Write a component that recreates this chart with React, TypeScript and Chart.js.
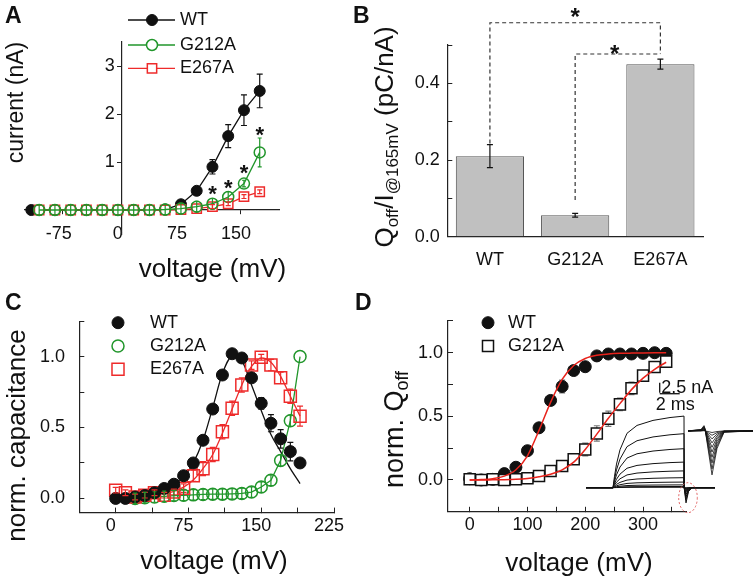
import React, { useEffect, useRef } from 'react';
import { Chart, registerables } from 'chart.js';

Chart.register(...registerables);

const FONT = "'Liberation Sans', Arial, Helvetica, sans-serif";
Chart.defaults.font.family = FONT;
Chart.defaults.font.size = 18;
Chart.defaults.color = '#111';

const INK = '#111111';
const AXIS = '#222222';
const GREEN = '#21962b';
const RED = '#ee2b2b';
const FIT_RED = '#e8231c';
const BAR_FILL = '#c0c0c0';
const CLEAR = 'rgba(255,255,255,0)';

// ---------------- Panel A : current vs voltage ----------------
const A_LEGEND = ['WT', 'G212A', 'E267A'];
const A_WT_V = [-115, -105, -85, -65, -45, -25, -5, 15, 35, 55, 75, 95, 115, 135, 155, 175];
const A_WT_I = [0, 0, 0, 0, 0, 0, 0, 0, 0, 0.01, 0.12, 0.4, 0.9, 1.54, 2.08, 2.48];
const A_WT_ERR = [0, 0, 0, 0, 0, 0, 0, 0, 0, 0, 0.03, 0.05, 0.15, 0.24, 0.32, 0.35];
const A_MUT_V = [-105, -85, -65, -45, -25, -5, 15, 35, 55, 75, 95, 115, 135, 155, 175];
const A_G212A_I = [0, 0, 0, 0, 0, 0, 0, 0, 0.01, 0.03, 0.07, 0.13, 0.27, 0.55, 1.2];
const A_G212A_ERR = [0.11, 0.11, 0.11, 0.11, 0.11, 0.11, 0.11, 0.11, 0.11, 0.11, 0.11, 0.11, 0.11, 0.07, 0.3];
const A_E267A_I = [0, 0, 0, 0, 0, 0, 0, 0, 0, 0.01, 0.03, 0.07, 0.13, 0.28, 0.38];
const A_E267A_ERR = [0, 0, 0, 0, 0, 0, 0, 0, 0, 0, 0, 0.04, 0.04, 0.04, 0.04];
const A_STAR_V = [115, 135, 155, 175];
const A_STAR_I = [0.45, 0.57, 0.89, 1.68];
const A_XTICKS = [-75, 0, 75, 150];
const A_YTICKS = [1, 2, 3];

// ---------------- Panel B : Qoff / I bars ----------------
const B_CATS = ['WT', 'G212A', 'E267A'];
const B_VALS = [0.21, 0.056, 0.45];
const B_ERR = [0.03, 0.005, 0.013];
const B_OUTER_CAT = ['WT', 'WT', 'E267A', 'E267A'];
const B_OUTER_Y = [0.243, 0.558, 0.558, 0.4765];
const B_INNER_CAT = ['G212A', 'G212A', 'E267A'];
const B_INNER_Y = [0.096, 0.4765, 0.4765];
const B_STAR_POS = [1, 1.465];
const B_STAR_Y = [0.587, 0.491];
const B_YTICKS = [0, 0.1, 0.2, 0.3, 0.4, 0.5];
const B_YLABELED = [0, 0.2, 0.4];

// ---------------- Panel C : normalized capacitance ----------------
const C_LEGEND = ['WT', 'G212A', 'E267A'];
const C_V = [0, 10, 20, 30, 40, 50, 60, 70, 80, 90, 100, 110, 120, 130, 140, 150, 160, 170, 180, 190];
const C_WT = [0.0, 0.0, 0.01, 0.02, 0.04, 0.07, 0.1, 0.16, 0.25, 0.41, 0.63, 0.87, 1.02, 0.99, 0.85, 0.67, 0.53, 0.42, 0.33, 0.25];
const C_WT_ERR = [0, 0, 0, 0, 0, 0, 0, 0.01, 0.01, 0.02, 0.02, 0.02, 0.02, 0.02, 0.02, 0.04, 0.06, 0.065, 0.065, 0.02];
const C_WT_FIT = [0.0, 0.005, 0.012, 0.022, 0.037, 0.06, 0.095, 0.15, 0.25, 0.41, 0.64, 0.88, 1.0, 0.97, 0.8, 0.62, 0.45, 0.33, 0.21, 0.105];
const C_G212A_V = [20, 30, 40, 50, 60, 70, 80, 90, 100, 110, 120, 130, 140, 150, 160, 170, 180, 190];
const C_G212A = [0.0, 0.005, 0.01, 0.015, 0.02, 0.022, 0.025, 0.028, 0.03, 0.03, 0.032, 0.035, 0.045, 0.08, 0.128, 0.268, 0.548, 1.0];
const C_G212A_ERR = [0.037, 0.037, 0.037, 0.037, 0.037, 0.037, 0.037, 0.037, 0.037, 0.037, 0.037, 0.037, 0.037, 0.037, 0.037, 0.04, 0.04, 0];
const C_E267A = [0.058, 0.04, 0.01, 0.023, 0.04, 0.023, 0.046, 0.072, 0.16, 0.21, 0.31, 0.47, 0.636, 0.8, 0.94, 0.995, 0.94, 0.85, 0.72, 0.58];
const C_E267A_ERR = [0.02, 0.02, 0.02, 0.02, 0.02, 0.02, 0.02, 0.03, 0.04, 0.05, 0.05, 0.05, 0.05, 0.05, 0.03, 0.02, 0.04, 0.04, 0.05, 0.07];
const C_E267A_FIT = [0.005, 0.008, 0.012, 0.017, 0.025, 0.035, 0.05, 0.08, 0.13, 0.21, 0.31, 0.46, 0.63, 0.8, 0.93, 0.99, 0.96, 0.86, 0.72, 0.58];
const C_XTICKS = [0, 37.5, 75, 112.5, 150, 187.5, 225];
const C_XLABELED = [0, 75, 150, 225];
const C_YTICKS = [0, 0.25, 0.5, 0.75, 1.0, 1.25];
const C_YLABELED = [0, 0.5, 1.0];

// ---------------- Panel D : normalized Qoff ----------------
const D_LEGEND = ['WT', 'G212A'];
const D_V = [0, 20, 40, 60, 80, 100, 120, 140, 160, 180, 200, 220, 240, 260, 280, 300, 320, 340];
const D_WT = [0.01, 0.0, 0.005, 0.05, 0.1, 0.23, 0.41, 0.625, 0.735, 0.86, 0.89, 0.975, 0.99, 0.99, 0.99, 0.995, 1.0, 0.995];
const D_WT_ERR = [0, 0, 0, 0, 0.02, 0.02, 0.03, 0.03, 0.05, 0.02, 0.02, 0, 0, 0, 0, 0, 0, 0];
const D_G212A = [0.005, 0.0, 0.005, 0.0, 0.005, 0.013, 0.031, 0.071, 0.11, 0.163, 0.24, 0.366, 0.481, 0.594, 0.72, 0.82, 0.888, 0.93];
const D_G212A_ERR = [0, 0, 0, 0, 0, 0.01, 0.01, 0.02, 0.03, 0.04, 0.05, 0.06, 0.06, 0.05, 0.05, 0.04, 0.02, 0.01];
const D_WT_FIT = [0.0, 0.003, 0.01, 0.03, 0.08, 0.19, 0.39, 0.61, 0.79, 0.9, 0.955, 0.98, 0.99, 0.995, 0.997, 0.998, 0.999, 1.0];
const D_G212A_FIT = [0.0, 0.0, 0.001, 0.002, 0.005, 0.012, 0.025, 0.045, 0.08, 0.14, 0.24, 0.36, 0.485, 0.6, 0.71, 0.8, 0.87, 0.925];
const D_XTICKS = [0, 50, 100, 150, 200, 250, 300, 350];
const D_XLABELED = [0, 100, 200, 300];
const D_YTICKS = [0, 0.25, 0.5, 0.75, 1.0, 1.25];
const D_YLABELED = [0, 0.5, 1.0];

// ---------------- Panel D inset : current traces (time in ms, current in nA) ----------------
const INSET_T_RANGE = [-3.3, 14.3];
const INSET_I_RANGE = [-7.08, 29.43];
const INSET_AMP = [17.9, 13.5, 9.75, 6.4, 4.2, 2.5, 1.4, 0.7, 0.3, 0.1];
const INSET_SPIKE = [3.8, 3.0, 2.3, 1.7, 1.2, 0.8, 0.5, 0.3, 0.1, 0.05];
const INSET_PRE_T = [-2.7, 0];
const INSET_RISE_T = [0.15, 0.35, 0.7, 1.4, 2.4, 4.0, 5.7, 7.1];
const INSET_RISE_F = [0.16, 0.33, 0.53, 0.76, 0.87, 0.94, 0.98, 1.0];
const INSET_OFF_T = [7.12, 7.3, 7.55, 7.9, 10.2];
const INSET_OFF_F = [0, -1, -0.25, 0, 0];
const INSET_TAIL_BASE = 14.2;
const INSET_TAIL_T = [7.5, 8.8, 9.1, 9.2, 9.9, 10.4, 11.1, 14.0];
const INSET_TAIL_F = [0, 0.03, 0.12, 0.05, -1, -0.4, -0.03, 0];
const INSET_TAIL_DEPTH = [11, 9.5, 8, 6.6, 5.3, 4.1, 3, 2, 1.1, 0.4];
const INSET_BAR_T = [4.67, 6.67];
const INSET_BAR_I = [23.5, 23.75, 26.25];
const INSET_RING = [7.5, -2.5, 0.93, 3.75]; // centre t, centre I, radius t, radius I

type Pt = { x: number; y: number };
const pts = (xs: number[], ys: number[]): Pt[] => xs.map((x, i) => ({ x, y: ys[i] }));
const catPts = (cs: string[], ys: number[]) => cs.map((c, i) => ({ x: c, y: ys[i] }));

// ---------------- drawing helpers ----------------
type Run = { t: string; sub?: boolean };
function drawRich(ctx: any, runs: Run[], x: number, y: number, size: number, subSize: number, rotate: boolean) {
  ctx.save();
  ctx.translate(x, y);
  if (rotate) ctx.rotate(-Math.PI / 2);
  ctx.textAlign = 'left';
  ctx.textBaseline = 'alphabetic';
  ctx.fillStyle = INK;
  const fonts = runs.map((r) => `${r.sub ? subSize : size}px ${FONT}`);
  const widths = runs.map((r, i) => {
    ctx.font = fonts[i];
    return ctx.measureText(r.t).width;
  });
  let cx = -widths.reduce((a, b) => a + b, 0) / 2;
  runs.forEach((r, i) => {
    ctx.font = fonts[i];
    ctx.fillText(r.t, cx, r.sub ? size * 0.2 : 0);
    cx += widths[i];
  });
  ctx.restore();
}
function drawText(ctx: any, s: string, x: number, y: number, font: string, align = 'left', baseline = 'alphabetic') {
  ctx.save();
  ctx.font = font;
  ctx.fillStyle = INK;
  ctx.textAlign = align;
  ctx.textBaseline = baseline;
  ctx.fillText(s, x, y);
  ctx.restore();
}
const drawLetter = (ctx: any, s: string, x: number, y: number) => drawText(ctx, s, x, y, `bold 23px ${FONT}`);
function drawStar(ctx: any, x: number, y: number, size: number) {
  drawText(ctx, '*', x, y + size * 0.57, `bold ${size}px ${FONT}`, 'center');
}
function marker(ctx: any, kind: string, x: number, y: number, r: number, stroke: string, fill: string, lw: number) {
  ctx.save();
  ctx.beginPath();
  if (kind === 'rect') {
    const h = r * Math.SQRT1_2;
    ctx.rect(x - h, y - h, 2 * h, 2 * h);
  } else {
    ctx.arc(x, y, r, 0, Math.PI * 2);
  }
  ctx.fillStyle = fill;
  ctx.fill();
  ctx.lineWidth = lw;
  ctx.strokeStyle = stroke;
  ctx.stroke();
  ctx.restore();
}
function drawLegend(ctx: any, chart: any, names: string[], mx: number, tx: number, rows: number[], line?: [number, number]) {
  names.forEach((name, i) => {
    const ds = chart.data.datasets.find((d: any) => d.label === name);
    if (line) {
      ctx.save();
      ctx.strokeStyle = ds.borderColor;
      ctx.lineWidth = 1.3;
      ctx.beginPath();
      ctx.moveTo(line[0], rows[i]);
      ctx.lineTo(line[1], rows[i]);
      ctx.stroke();
      ctx.restore();
    }
    const fill = ds.pointBackgroundColor === CLEAR ? '#ffffff' : ds.pointBackgroundColor;
    marker(ctx, ds.pointStyle, mx, rows[i], ds.pointRadius, ds.pointBorderColor || ds.borderColor, fill, ds.pointBorderWidth || 1.5);
    drawText(ctx, name, tx, rows[i], `18px ${FONT}`, 'left', 'middle');
  });
}

function drawErrs(chart: any, top: boolean) {
  const ctx = chart.ctx;
  chart.data.datasets.forEach((ds: any, i: number) => {
    if (!ds.errors || !!ds.errTop !== top) return;
    const meta = chart.getDatasetMeta(i);
    const ys = chart.scales[meta.yAxisID];
    ctx.save();
    ctx.strokeStyle = ds.errColor || ds.borderColor;
    ctx.lineWidth = 1.2;
    const cap = ds.errCap ?? 3;
    meta.data.forEach((el: any, j: number) => {
      const e = ds.errors[j];
      if (!e) return;
      const raw = ds.data[j];
      const v = typeof raw === 'number' ? raw : raw.y;
      const x = el.x;
      const y1 = ys.getPixelForValue(v + e);
      const y2 = ys.getPixelForValue(v - e);
      ctx.beginPath();
      ctx.moveTo(x, y1);
      ctx.lineTo(x, y2);
      ctx.moveTo(x - cap, y1);
      ctx.lineTo(x + cap, y1);
      ctx.moveTo(x - cap, y2);
      ctx.lineTo(x + cap, y2);
      ctx.stroke();
    });
    ctx.restore();
  });
}
const errorBarPlugin = {
  id: 'errorBars',
  beforeDatasetsDraw(chart: any) { drawErrs(chart, false); },
  afterDatasetsDraw(chart: any) { drawErrs(chart, true); },
};

const near = (list: number[], v: number) => list.some((l) => Math.abs(l - v) < 1e-6);
function linAxis(o: any) {
  return {
    type: 'linear',
    position: o.position,
    min: o.min,
    max: o.max,
    afterBuildTicks: (s: any) => { s.ticks = o.ticks.map((v: number) => ({ value: v })); },
    afterFit: (s: any) => { if (o.isX) s.height = o.fit; else s.width = o.fit; },
    grid: { display: true, drawOnChartArea: false, drawTicks: true, tickLength: o.tl, color: AXIS, lineWidth: 1 },
    border: { display: true, color: AXIS, width: 1.2 },
    title: { display: false },
    ticks: {
      display: o.showLabels !== false,
      autoSkip: false,
      maxRotation: 0,
      padding: o.pad,
      labelOffset: o.lo || 0,
      color: INK,
      font: { size: 18, family: FONT },
      callback: (v: number) => (near(o.labeled, v) ? o.fmt(v) : ''),
    },
  };
}
const pad = (W: number, H: number, a: any, yw: number, xh: number) => ({ left: a.l - yw, top: a.t, right: W - a.r, bottom: H - a.b - xh });
const baseOpts = { animation: false, responsive: false, events: [], plugins: { legend: { display: false }, tooltip: { enabled: false } } };

// ---------------- configs ----------------
function configA(): any {
  const W = 378, H = 291;
  const area = { l: 25, t: 42, r: 279.4, b: 234 };
  const overlay = {
    id: 'overlayA',
    afterDraw(chart: any) {
      const ctx = chart.ctx;
      const xs = chart.scales.x, ys = chart.scales.y;
      drawLetter(ctx, 'A', 5, 23);
      drawRich(ctx, [{ t: 'current (nA)' }], 23.3, 102.5, 23, 15, true);
      drawRich(ctx, [{ t: 'voltage (mV)' }], 212.5, 276.7, 26, 17, false);
      const axisX = xs.getPixelForValue(0);
      A_YTICKS.forEach((v) => drawText(ctx, String(v), axisX - 7, ys.getPixelForValue(v), `18px ${FONT}`, 'right', 'middle'));
      A_STAR_V.forEach((v, i) => drawStar(ctx, xs.getPixelForValue(v), ys.getPixelForValue(A_STAR_I[i]), 22));
      drawLegend(ctx, chart, A_LEGEND, 152, 180, [20, 45, 68.3], [128, 175]);
    },
  };
  return {
    type: 'line',
    data: {
      datasets: [
        { label: 'G212A', data: pts(A_MUT_V, A_G212A_I), errors: A_G212A_ERR, errTop: true, errCap: 2, borderColor: GREEN, borderWidth: 1.3, pointStyle: 'circle', pointRadius: 5.5, pointBorderWidth: 1.5, pointBackgroundColor: CLEAR, tension: 0, order: 0 },
        { label: 'E267A', data: pts(A_MUT_V, A_E267A_I), errors: A_E267A_ERR, errTop: true, errCap: 2.5, borderColor: RED, borderWidth: 1.3, pointStyle: 'rect', pointRadius: 6.6, pointBorderWidth: 1.5, pointBackgroundColor: '#ffffff', tension: 0, order: 1 },
        { label: 'WT', data: pts(A_WT_V, A_WT_I), errors: A_WT_ERR, borderColor: INK, borderWidth: 1.3, pointStyle: 'circle', pointRadius: 5.5, pointBorderWidth: 1, pointBackgroundColor: INK, tension: 0, order: 2 },
      ],
    },
    options: {
      ...baseOpts,
      layout: { padding: pad(W, H, area, 0, 0) },
      scales: {
        x: linAxis({ position: { y: 0 }, min: -123, max: 200, ticks: A_XTICKS, labeled: A_XTICKS, fmt: (v: number) => String(v), isX: true, fit: 0, tl: 4, pad: 9.2, lo: -4 }),
        y: linAxis({ position: { x: 0 }, min: -0.5, max: 3.5, ticks: A_YTICKS, labeled: A_YTICKS, fmt: (v: number) => String(v), isX: false, fit: 0, tl: 4, pad: 2.8, showLabels: false }),
      },
    },
    plugins: [errorBarPlugin, overlay],
  };
}

function configB(): any {
  const W = 416, H = 291;
  const area = { l: 107.3, t: 45, r: 363, b: 236.7 };
  const overlay = {
    id: 'overlayB',
    afterDraw(chart: any) {
      const ctx = chart.ctx;
      const xs = chart.scales.x, ys = chart.scales.y;
      drawLetter(ctx, 'B', 13, 23);
      drawRich(ctx, [{ t: 'Q' }, { t: 'off', sub: true }, { t: '/I' }, { t: '@165mV', sub: true }, { t: ' (pC/nA)' }], 53, 137, 26, 17, true);
      B_STAR_POS.forEach((p, i) => drawStar(ctx, xs.getPixelForValue(p), ys.getPixelForValue(B_STAR_Y[i]), 24));
    },
  };
  const bracket = { type: 'line', borderColor: '#333333', borderWidth: 1.2, borderDash: [4, 3], pointRadius: 0, clip: false, fill: false, tension: 0, order: 0 };
  return {
    type: 'bar',
    data: {
      labels: B_CATS,
      datasets: [
        { type: 'bar', label: 'Qoff/I', data: B_VALS, errors: B_ERR, errTop: true, errColor: INK, errCap: 3, backgroundColor: BAR_FILL, borderColor: '#555555', borderWidth: 1, barPercentage: 0.8, categoryPercentage: 1, order: 1 },
        { ...bracket, label: 'outer', data: catPts(B_OUTER_CAT, B_OUTER_Y) },
        { ...bracket, label: 'inner', data: catPts(B_INNER_CAT, B_INNER_Y) },
      ],
    },
    options: {
      ...baseOpts,
      layout: { padding: pad(W, H, area, 60, 40) },
      scales: {
        x: {
          type: 'category',
          afterFit: (s: any) => { s.height = 40; },
          grid: { display: false },
          border: { display: true, color: AXIS, width: 1.2 },
          ticks: { padding: 4.2, color: INK, font: { size: 18, family: FONT } },
        },
        y: linAxis({ min: 0, max: 0.5, ticks: B_YTICKS, labeled: B_YLABELED, fmt: (v: number) => v.toFixed(1), isX: false, fit: 60, tl: -5, pad: 12.6 }),
      },
    },
    plugins: [errorBarPlugin, overlay],
  };
}

function configC(): any {
  const W = 378, H = 291;
  const area = { l: 79.3, t: 28.5, r: 334, b: 221.6 };
  const overlay = {
    id: 'overlayC',
    afterDraw(chart: any) {
      const ctx = chart.ctx;
      drawLetter(ctx, 'C', 5, 18.5);
      drawRich(ctx, [{ t: 'norm. capacitance' }], 25, 144.5, 26, 17, true);
      drawRich(ctx, [{ t: 'voltage (mV)' }], 214, 278, 26, 17, false);
      drawLegend(ctx, chart, C_LEGEND, 118, 150, [31.7, 55, 78.3]);
    },
  };
  return {
    type: 'line',
    data: {
      datasets: [
        { label: 'WT', data: pts(C_V, C_WT), errors: C_WT_ERR, showLine: false, borderColor: INK, pointStyle: 'circle', pointRadius: 6, pointBorderWidth: 1, pointBackgroundColor: INK, order: 0 },
        { label: 'E267A', data: pts(C_V, C_E267A), errors: C_E267A_ERR, errTop: true, errCap: 3, showLine: false, borderColor: RED, pointStyle: 'rect', pointRadius: 8.5, pointBorderWidth: 1.5, pointBackgroundColor: CLEAR, order: 1 },
        { label: 'G212A', data: pts(C_G212A_V, C_G212A), errors: C_G212A_ERR, errTop: true, errCap: 2, borderColor: GREEN, borderWidth: 1.3, tension: 0, pointStyle: 'circle', pointRadius: 6, pointBorderWidth: 1.5, pointBackgroundColor: CLEAR, order: 2 },
        { label: 'WT fit', data: pts(C_V, C_WT_FIT), borderColor: INK, borderWidth: 1.3, pointRadius: 0, cubicInterpolationMode: 'monotone', order: 3 },
        { label: 'E267A fit', data: pts(C_V, C_E267A_FIT), borderColor: RED, borderWidth: 1.3, pointRadius: 0, cubicInterpolationMode: 'monotone', order: 3 },
      ],
    },
    options: {
      ...baseOpts,
      layout: { padding: pad(W, H, area, 60, 40) },
      scales: {
        x: linAxis({ position: 'bottom', min: -37.5, max: 225, ticks: C_XTICKS, labeled: C_XLABELED, fmt: (v: number) => String(v), isX: true, fit: 40, tl: -5, pad: 7.6, lo: -5 }),
        y: linAxis({ position: 'left', min: -0.1, max: 1.25, ticks: C_YTICKS, labeled: C_YLABELED, fmt: (v: number) => v.toFixed(1), isX: false, fit: 60, tl: -5, pad: 19.3 }),
      },
    },
    plugins: [errorBarPlugin, overlay],
  };
}

function configD(): any {
  const W = 416, H = 291;
  const area = { l: 108, t: 29.9, r: 346.4, b: 220.8 };
  const overlay = {
    id: 'overlayD',
    afterDraw(chart: any) {
      const ctx = chart.ctx;
      drawLetter(ctx, 'D', 15, 18.5);
      drawRich(ctx, [{ t: 'norm. Q' }, { t: 'off', sub: true }], 63, 138.5, 27, 18, true);
      drawRich(ctx, [{ t: 'voltage (mV)' }], 239, 280, 26, 17, false);
      drawLegend(ctx, chart, D_LEGEND, 148, 168, [31.7, 55]);
    },
  };
  return {
    type: 'line',
    data: {
      datasets: [
        { label: 'WT fit', data: pts(D_V, D_WT_FIT), borderColor: FIT_RED, borderWidth: 1.5, pointRadius: 0, cubicInterpolationMode: 'monotone', order: 0 },
        { label: 'G212A fit', data: pts(D_V, D_G212A_FIT), borderColor: FIT_RED, borderWidth: 1.5, pointRadius: 0, cubicInterpolationMode: 'monotone', order: 0 },
        { label: 'G212A', data: pts(D_V, D_G212A), errors: D_G212A_ERR, errColor: '#777777', errCap: 3, showLine: false, borderColor: INK, pointStyle: 'rect', pointRadius: 7.8, pointBorderWidth: 1.5, pointBorderColor: INK, pointBackgroundColor: '#ffffff', order: 1 },
        { label: 'WT', data: pts(D_V, D_WT), errors: D_WT_ERR, errColor: '#777777', errCap: 3, showLine: false, borderColor: INK, pointStyle: 'circle', pointRadius: 6, pointBorderWidth: 1, pointBackgroundColor: INK, order: 2 },
      ],
    },
    options: {
      ...baseOpts,
      layout: { padding: pad(W, H, area, 60, 40) },
      scales: {
        x: linAxis({ position: 'bottom', min: -37.5, max: 375, ticks: D_XTICKS, labeled: D_XLABELED, fmt: (v: number) => String(v), isX: true, fit: 40, tl: -5, pad: 7.6 }),
        y: linAxis({ position: 'left', min: -0.25, max: 1.25, ticks: D_YTICKS, labeled: D_YLABELED, fmt: (v: number) => v.toFixed(1), isX: false, fit: 60, tl: -5, pad: 10 }),
      },
    },
    plugins: [errorBarPlugin, overlay],
  };
}

function configInset(): any {
  const traceLine = { type: 'line', borderColor: INK, borderWidth: 1, pointRadius: 0, tension: 0, clip: false };
  const main = INSET_AMP.map((amp, k) => ({
    ...traceLine,
    label: `trace ${k}`,
    data: [
      ...INSET_PRE_T.map((t) => ({ x: t, y: 0 })),
      ...pts(INSET_RISE_T, INSET_RISE_F.map((f) => f * amp)),
      ...pts(INSET_OFF_T, INSET_OFF_F.map((f) => f * INSET_SPIKE[k])),
    ],
  }));
  const tails = INSET_TAIL_DEPTH.map((d, k) => ({
    ...traceLine,
    label: `tail ${k}`,
    borderWidth: 0.8,
    data: pts(INSET_TAIL_T, INSET_TAIL_F.map((f) => INSET_TAIL_BASE + f * d)),
  }));
  const bars = [
    { ...traceLine, label: 'bar I', borderWidth: 1.3, data: pts([INSET_BAR_T[0], INSET_BAR_T[0]], [INSET_BAR_I[1], INSET_BAR_I[2]]) },
    { ...traceLine, label: 'bar t', borderWidth: 1.3, data: pts(INSET_BAR_T, [INSET_BAR_I[0], INSET_BAR_I[0]]) },
  ];
  const overlay = {
    id: 'overlayInset',
    afterDraw(chart: any) {
      const ctx = chart.ctx;
      const xi = chart.scales.x, yi = chart.scales.y;
      drawText(ctx, '2.5 nA', xi.getPixelForValue(INSET_BAR_T[0]) + 1.5, yi.getPixelForValue(INSET_BAR_I[1]), `18px ${FONT}`);
      drawText(ctx, '2 ms', xi.getPixelForValue(INSET_BAR_T[0]) - 4, yi.getPixelForValue(INSET_BAR_I[0]) + 16, `18px ${FONT}`);
      const cx = xi.getPixelForValue(INSET_RING[0]);
      const cy = yi.getPixelForValue(INSET_RING[1]);
      const rx = Math.abs(xi.getPixelForValue(INSET_RING[0] + INSET_RING[2]) - cx);
      const ry = Math.abs(yi.getPixelForValue(INSET_RING[1] + INSET_RING[3]) - cy);
      ctx.save();
      ctx.strokeStyle = '#e06060';
      ctx.lineWidth = 1;
      ctx.setLineDash([2, 2]);
      ctx.beginPath();
      ctx.ellipse(cx, cy, rx, ry, 0, 0, Math.PI * 2);
      ctx.stroke();
      ctx.restore();
    },
  };
  return {
    type: 'line',
    data: { datasets: [...main, ...tails, ...bars] },
    options: {
      ...baseOpts,
      layout: { padding: 0 },
      scales: {
        x: { type: 'linear', display: false, min: INSET_T_RANGE[0], max: INSET_T_RANGE[1] },
        y: { type: 'linear', display: false, min: INSET_I_RANGE[0], max: INSET_I_RANGE[1] },
      },
    },
    plugins: [overlay],
  };
}

function Panel({ x, y, w, h, make }: { x: number; y: number; w: number; h: number; make: () => any }) {
  const ref = useRef<HTMLCanvasElement | null>(null);
  useEffect(() => {
    if (!ref.current) return;
    const chart = new Chart(ref.current, make());
    return () => chart.destroy();
  }, [make]);
  return (
    <canvas
      ref={ref}
      width={w}
      height={h}
      style={{ position: 'absolute', left: x, top: y, width: w, height: h }}
    />
  );
}

export default function App() {
  return (
    <div style={{ position: 'absolute', left: 0, top: 0, width: 756, height: 582, background: '#ffffff', overflow: 'hidden' }}>
      <Panel x={0} y={0} w={378} h={291} make={configA} />
      <Panel x={340} y={0} w={416} h={291} make={configB} />
      <Panel x={0} y={291} w={378} h={291} make={configC} />
      <Panel x={340} y={291} w={416} h={291} make={configD} />
      <Panel x={580} y={370} w={176} h={146} make={configInset} />
    </div>
  );
}
